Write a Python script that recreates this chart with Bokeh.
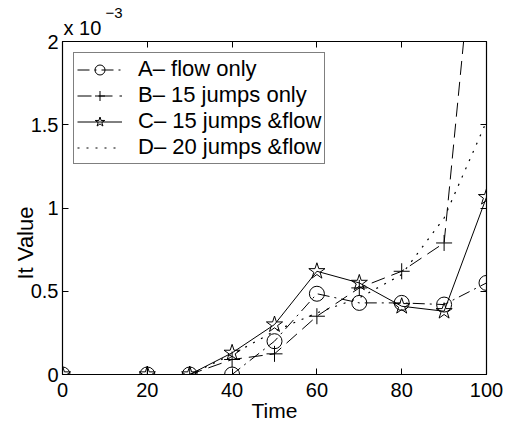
import math
from bokeh.plotting import figure
from bokeh.models import LinearAxis, FixedTicker, Legend, LegendItem, Title
from bokeh.embed import file_html
from bokeh.resources import INLINE

# ---- data (It Value in units of 1e-3) ----
time = [0, 20, 30, 40, 50, 60, 70, 80, 90, 100]
a_flow_only = [0, 0, 0, 0, 0.20, 0.485, 0.43, 0.43, 0.42, 0.55]
b_15_jumps_only = [0, 0, 0, 0.09, 0.124, 0.35, 0.52, 0.62, 0.79, 3.42]
c_15_jumps_flow = [0, 0, 0, 0.13, 0.30, 0.62, 0.55, 0.41, 0.38, 1.065]
d_20_jumps_flow = [0, 0, 0, 0.12, 0.26, 0.37, 0.46, 0.60, 0.94, 1.52]
series_labels = ["A– flow only", "B– 15 jumps only", "C– 15 jumps &flow", "D– 20 jumps &flow"]
x_ticks = [0, 20, 40, 60, 80, 100]
y_ticks = [0, 0.5, 1, 1.5, 2]
y_tick_labels = ["0", "0.5", "1", "1.5", "2"]
x_title = "Time"
y_title = "It Value"
exp_base = "x 10"
exp_power = "−3"

FONT = "Liberation Sans"

p = figure(width=506, height=425, x_range=(0, 100), y_range=(0, 2),
           output_backend="svg", toolbar_location=None,
           min_border_left=62, min_border_right=20, min_border_top=41, min_border_bottom=51)
p.title = None
p.xgrid.visible = False
p.ygrid.visible = False
p.outline_line_color = "black"
p.outline_line_width = 1.2
p.background_fill_color = "white"
p.border_fill_color = "white"

for ax in (p.xaxis[0], p.yaxis[0]):
    ax.major_tick_in = 6
    ax.major_tick_out = 0
    ax.minor_tick_line_color = None
    ax.axis_line_color = "black"
    ax.major_tick_line_color = "black"
    ax.major_label_text_font = FONT
    ax.major_label_text_font_size = "20px"
    ax.major_label_text_color = "black"
p.xaxis[0].ticker = FixedTicker(ticks=x_ticks)
p.yaxis[0].ticker = FixedTicker(ticks=y_ticks)
p.xaxis[0].major_label_standoff = 8
p.yaxis[0].major_label_standoff = 4
p.yaxis[0].major_label_overrides = {t: s for t, s in zip(y_ticks, y_tick_labels)}

p.xaxis[0].axis_label = x_title
p.xaxis[0].axis_label_text_font = FONT
p.xaxis[0].axis_label_text_font_size = "21px"
p.xaxis[0].axis_label_text_font_style = "normal"
p.xaxis[0].axis_label_text_color = "black"
p.xaxis[0].axis_label_standoff = -1

# box ticks on top / right (no labels drawn)
for place, ticks in (("above", x_ticks), ("right", y_ticks)):
    ax = LinearAxis(ticker=FixedTicker(ticks=ticks), major_tick_in=6, major_tick_out=0,
                    minor_tick_line_color=None, axis_line_color=None,
                    major_label_text_font_size="1px", major_label_text_color=None,
                    major_label_standoff=0)
    p.add_layout(ax, place)

# exponent label above the frame
p.add_layout(Title(text=exp_base, align="left", offset=1, standoff=5,
                   text_font=FONT, text_font_size="20px", text_font_style="normal",
                   text_color="black"), "above")
p.add_layout(Title(text=exp_power, align="left", offset=43, standoff=-10,
                   text_font=FONT, text_font_size="15px", text_font_style="normal",
                   text_color="black"), "above")

# y title on the left
p.add_layout(Title(text=y_title, align="left", offset=95, standoff=-20,
                   text_font=FONT, text_font_size="22px", text_font_style="normal",
                   text_color="black"), "left")

# ---- series ----
la = p.line(time, a_flow_only, line_color="black", line_width=1, line_dash="12 5 2 5")
sa = p.scatter(time, a_flow_only, marker="circle", size=15, line_color="black",
               fill_color=None, line_width=1)
lb = p.line(time, b_15_jumps_only, line_color="black", line_width=1, line_dash="14 7")
sb = p.scatter(time, b_15_jumps_only, marker="cross", size=16, line_color="black",
               fill_color=None, line_width=1)
lc = p.line(time, c_15_jumps_flow, line_color="black", line_width=1)
sc = p.scatter(time, c_15_jumps_flow, marker="star", size=17, line_color="black",
               fill_color=None, line_width=1)
ld = p.line(time, d_20_jumps_flow, line_color="black", line_width=1.2, line_dash="2 7")

legend = Legend(items=[
    LegendItem(label=series_labels[0], renderers=[la, sa]),
    LegendItem(label=series_labels[1], renderers=[lb, sb]),
    LegendItem(label=series_labels[2], renderers=[lc, sc]),
    LegendItem(label=series_labels[3], renderers=[ld]),
], location="top_left")
legend.margin = 11
legend.padding = 3
legend.spacing = 0
legend.label_height = 25
legend.glyph_height = 25
legend.glyph_width = 45
legend.label_standoff = 16
legend.label_text_font = FONT
legend.label_text_font_size = "22px"
legend.label_text_line_height = 1.0
legend.label_text_color = "black"
legend.border_line_color = "black"
legend.border_line_width = 1.2
legend.background_fill_alpha = 1
p.add_layout(legend)

open("out.html", "w").write(file_html(p, INLINE))
